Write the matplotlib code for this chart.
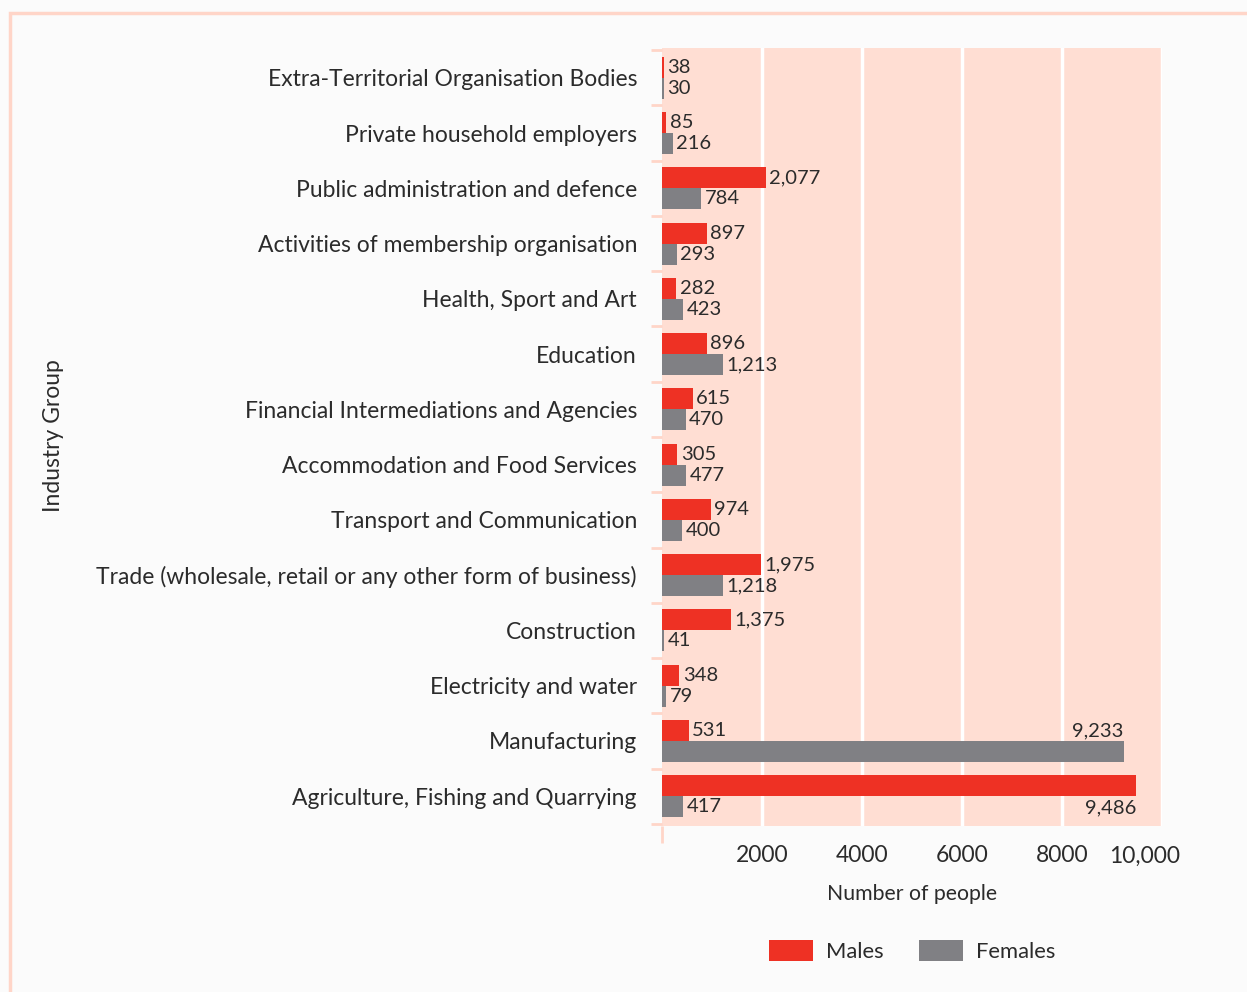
import matplotlib
matplotlib.use("Agg")
import matplotlib.pyplot as plt
from matplotlib.patches import Rectangle, Patch
from matplotlib.transforms import ScaledTranslation
import numpy as np

# data, top to bottom as in the chart
industries = [
    "Extra-Territorial Organisation Bodies",
    "Private household employers",
    "Public administration and defence",
    "Activities of membership organisation",
    "Health, Sport and Art",
    "Education",
    "Financial Intermediations and Agencies",
    "Accommodation and Food Services",
    "Transport and Communication",
    "Trade (wholesale, retail or any other form of business)",
    "Construction",
    "Electricity and water",
    "Manufacturing",
    "Agriculture, Fishing and Quarrying",
]
males = [38, 85, 2077, 897, 282, 896, 615, 305, 974, 1975, 1375, 348, 531, 9486]
females = [30, 216, 784, 293, 423, 1213, 470, 477, 400, 1218, 41, 79, 9233, 417]

RED = "#EE3124"
GREY = "#808084"
PINK = "#FFDED3"
TXT = "#2b2b2b"

plt.rcParams["font.family"] = ["Lato", "DejaVu Sans"]

fig = plt.figure(figsize=(12.47, 9.92), dpi=100)
fig.patch.set_facecolor("#fbfbfb")
fig.patches.append(Rectangle((10 / 1247, -0.1), 1.2, 1 - 13 / 992 + 0.1,
                             transform=fig.transFigure, fill=False,
                             edgecolor="#FFD5C8", linewidth=2.5, zorder=0))

ax = fig.add_axes([662 / 1247, 1 - 826 / 992, 500 / 1247, 778 / 992])
ax.set_facecolor(PINK)

n = len(industries)
y = np.arange(n)
h = 0.38
ax.barh(y - h / 2, males, height=h, color=RED, zorder=3)
ax.barh(y + h / 2, females, height=h, color=GREY, zorder=3)

fs = 16.5
vfs = 14.5
for i in range(n):
    m, f = males[i], females[i]
    if m > 9000:
        ax.text(m, i + h / 2 + 0.03, f"{m:,}", ha="right", va="center", fontsize=vfs, color=TXT, zorder=4)
    else:
        ax.text(m + 70, i - h / 2, f"{m:,}", ha="left", va="center", fontsize=vfs, color=TXT, zorder=4)
    if f > 9000:
        ax.text(f, i - h / 2, f"{f:,}", ha="right", va="center", fontsize=vfs, color=TXT, zorder=4)
    else:
        ax.text(f + 70, i + h / 2, f"{f:,}", ha="left", va="center", fontsize=vfs, color=TXT, zorder=4)

ax.set_xlim(0, 10000)
ax.set_ylim(n - 0.5 + 0.04, -0.5 - 0.04)

ax.set_xticks([2000, 4000, 6000, 8000, 10000])
ax.set_xticklabels(["2000", "4000", "6000", "8000", "10,000"])
ax.set_xticks([0], minor=True)
ax.tick_params(axis="x", which="major", length=0, pad=14, labelsize=fs, labelcolor=TXT)
ax.tick_params(axis="x", which="minor", length=12, width=2, color="#FFD5C8")
ax.xaxis.grid(True, color="white", linewidth=2.5, zorder=1)
last = ax.get_xticklabels()[-1]
last.set_transform(last.get_transform() + ScaledTranslation(-0.17, 0, fig.dpi_scale_trans))

ax.set_yticks(y)
ax.set_yticklabels(industries)
ax.set_yticks(np.arange(-0.5, n), minor=True)
ax.tick_params(axis="y", which="major", length=0, pad=18, labelsize=fs, labelcolor=TXT)
ax.tick_params(axis="y", which="minor", length=8, width=2, color="#FFD5C8")

for s in ax.spines.values():
    s.set_visible(False)
ax.set_axisbelow(True)

ax.set_xlabel("Number of people", fontsize=15.3, color=TXT, labelpad=13)
fig.text(54 / 1247, 1 - 436 / 992, "Industry Group", rotation=90, ha="center", va="center",
         fontsize=fs, color=TXT)

handles = [Patch(facecolor=RED, label="Males"), Patch(facecolor=GREY, label="Females")]
fig.legend(handles=handles, loc="center", bbox_to_anchor=(912 / 1247, 1 - 951 / 992), ncol=2,
           frameon=False, fontsize=15.8, handlelength=2.0, handleheight=1.05,
           handletextpad=0.6, columnspacing=1.6, labelcolor=TXT)

fig.savefig("out.png", dpi=100, facecolor=fig.get_facecolor())
